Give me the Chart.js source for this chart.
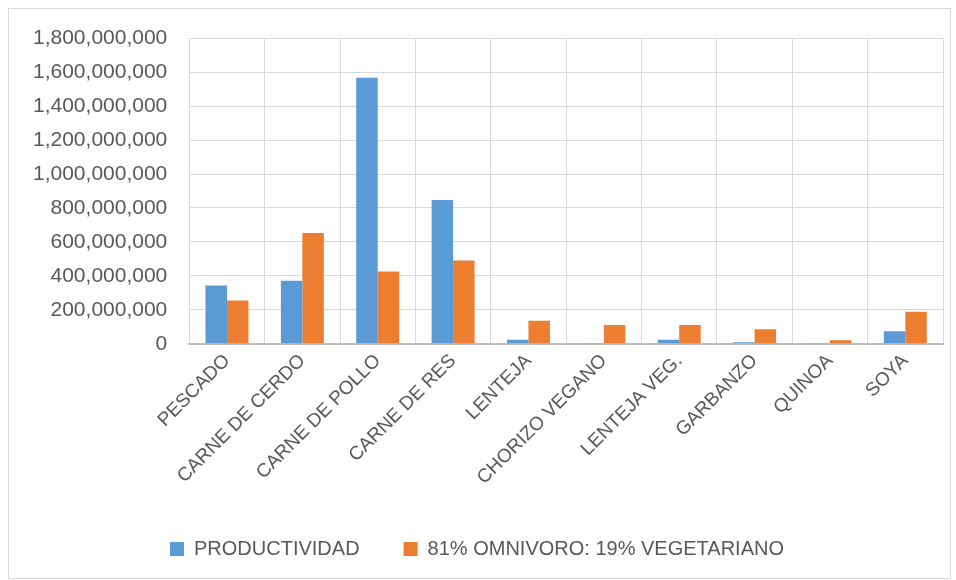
<!DOCTYPE html>
<html>
<head>
<meta charset="utf-8">
<script src="https://cdn.jsdelivr.net/npm/chart.js@4"></script>
<style>
  html, body { margin: 0; padding: 0; background: #fff; }
  #wrap {
    position: absolute; left: 8px; top: 8px;
    width: 941px; height: 569px;
    border: 1px solid #d9d9d9;
  }
</style>
</head>
<body>
<div id="wrap"><canvas id="grafico"></canvas></div>
<script>
const categorias = ['PESCADO', 'CARNE DE CERDO', 'CARNE DE POLLO', 'CARNE DE RES', 'LENTEJA',
  'CHORIZO VEGANO', 'LENTEJA VEG.', 'GARBANZO', 'QUINOA', 'SOYA'];
const productividad = [343000000, 371000000, 1568000000, 847000000, 24000000,
  1000000, 24000000, 8000000, 1000000, 73000000];
const omnivoro = [255000000, 653000000, 426000000, 490000000, 135000000,
  111000000, 110000000, 85000000, 20000000, 189000000];

const ctx = document.getElementById('grafico');
new Chart(ctx, {
  type: 'bar',
  data: {
    labels: categorias,
    datasets: [
      {
        label: 'PRODUCTIVIDAD',
        data: productividad,
        backgroundColor: '#5b9bd5'
      },
      {
        label: '81% OMNIVORO: 19% VEGETARIANO',
        data: omnivoro,
        backgroundColor: '#ed7d31'
      }
    ]
  },
  options: {
    responsive: true,
    maintainAspectRatio: false,
    animation: false,
    categoryPercentage: 0.57,
    barPercentage: 1.0,
    layout: { padding: { top: 8, right: 7, left: 2, bottom: 9 } },
    plugins: {
      legend: {
        position: 'bottom',
        labels: {
          boxWidth: 14,
          boxHeight: 14,
          padding: 44,
          color: '#595959',
          font: { family: 'Liberation Sans', size: 20 }
        }
      },
      tooltip: { enabled: false }
    },
    scales: {
      x: {
        grid: { color: '#d9d9d9', drawTicks: false },
        border: { color: '#bfbfbf', width: 2 },
        ticks: {
          color: '#595959',
          maxRotation: 45,
          minRotation: 45,
          padding: 6,
          font: { family: 'Liberation Sans', size: 19 }
        }
      },
      y: {
        min: 0,
        max: 1800000000,
        grid: { color: '#d9d9d9', drawTicks: false },
        border: { color: '#d9d9d9' },
        ticks: {
          stepSize: 200000000,
          color: '#595959',
          padding: 22,
          font: { family: 'Liberation Sans', size: 21, lineHeight: 0.7 },
          callback: v => v.toLocaleString('en-US')
        }
      }
    }
  }
});
</script>
</body>
</html>
